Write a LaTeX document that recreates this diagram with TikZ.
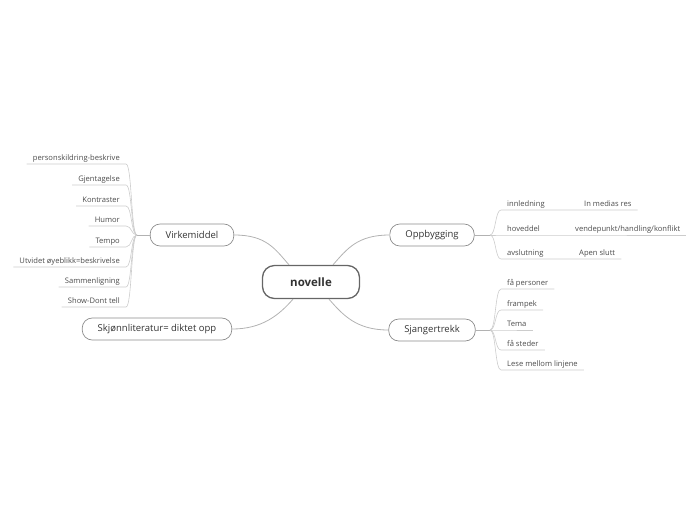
\documentclass[tikz,border=0pt]{standalone}
\usepackage{fontspec}
\setmainfont{Open Sans}
\usetikzlibrary{positioning,calc}

\begin{document}
\begin{tikzpicture}[x=1pt, y=-1pt,
  root/.style={draw=black!60, line width=1.3pt, rounded corners=12pt,
    minimum width=97pt, minimum height=33pt,
    font=\fontsize{11.5}{13}\selectfont\bfseries, text=black!80},
  topic/.style={draw=black!45, line width=0.7pt, rounded corners=10pt,
    minimum height=22pt, inner xsep=15.5pt,
    font=\fontsize{9.5}{11}\selectfont, text=black!80},
  leaf/.style={font=\fontsize{7.6}{8.5}\selectfont, text=black!70,
    inner xsep=6pt, inner ysep=3pt, text height=5pt, text depth=0pt},
  link/.style={draw=black!30, line width=0.8pt},
  uline/.style={draw=black!20, line width=0.6pt}]
  \useasboundingbox (0,0) rectangle (696,520);

  % main topics
  \node[root] (root) at (311,282) {novelle};
  \node[topic] (virk) at (192,235) {Virkemiddel};
  \node[topic] (opp) at (432,235) {Oppbygging};
  \node[topic] (sjanger) at (432,330) {Sjangertrekk};
  \node[topic] (skjonn) at (157,329) {Skjønnliteratur= diktet opp};

  \draw[link] (virk.east) .. controls +(32,0) and +(-14,-16) .. ([xshift=-22pt]root.north);
  \draw[link] (opp.west) .. controls +(-32,0) and +(14,-16) .. ([xshift=22pt]root.north);
  \draw[link] (sjanger.west) .. controls +(-32,0) and +(14,16) .. ([xshift=18pt]root.south);
  \draw[link] (skjonn.east) .. controls +(30,0) and +(-14,16) .. ([xshift=-18pt]root.south);

  % Virkemiddel
  \coordinate (vbr) at (137,235);
  \draw[link] (virk.west) -- (vbr);
  \node[leaf, anchor=south east] (v1) at (126,164) {personskildring-beskrive};
  \node[leaf, anchor=south east] (v2) at (126,185) {Gjentagelse};
  \node[leaf, anchor=south east] (v3) at (126,206) {Kontraster};
  \node[leaf, anchor=south east] (v4) at (126,226) {Humor};
  \node[leaf, anchor=south east] (v5) at (126,247) {Tempo};
  \node[leaf, anchor=south east] (v6) at (126,267) {Utvidet øyeblikk=beskrivelse};
  \node[leaf, anchor=south east] (v7) at (126,287) {Sammenligning};
  \node[leaf, anchor=south east] (v8) at (126,307) {Show-Dont tell};
  \draw[uline] (vbr) .. controls +(-6,0) and +(6,0) .. (v1.south east) -- (v1.south west);
  \draw[uline] (vbr) .. controls +(-6,0) and +(6,0) .. (v2.south east) -- (v2.south west);
  \draw[uline] (vbr) .. controls +(-6,0) and +(6,0) .. (v3.south east) -- (v3.south west);
  \draw[uline] (vbr) .. controls +(-6,0) and +(6,0) .. (v4.south east) -- (v4.south west);
  \draw[uline] (vbr) .. controls +(-6,0) and +(6,0) .. (v5.south east) -- (v5.south west);
  \draw[uline] (vbr) .. controls +(-6,0) and +(6,0) .. (v6.south east) -- (v6.south west);
  \draw[uline] (vbr) .. controls +(-6,0) and +(6,0) .. (v7.south east) -- (v7.south west);
  \draw[uline] (vbr) .. controls +(-6,0) and +(6,0) .. (v8.south east) -- (v8.south west);

  % Oppbygging
  \coordinate (obr) at (490,235);
  \draw[link] (opp.east) -- (obr);
  \node[leaf, anchor=south west] (o1) at (501,210) {innledning};
  \node[leaf, anchor=south west] (o2) at (501,235) {hoveddel};
  \node[leaf, anchor=south west] (o3) at (501,259) {avslutning};
  \node[leaf, anchor=south west] (g1) at (578,210) {In medias res};
  \node[leaf, anchor=south west] (g2) at (569,235) {vendepunkt/handling/konflikt};
  \node[leaf, anchor=south west] (g3) at (573,259) {Apen slutt};
  \draw[uline] (obr) .. controls +(6,0) and +(-6,0) .. (o1.south west) -- (o1.south east) -- (g1.south west) -- (g1.south east);
  \draw[uline] (obr) .. controls +(6,0) and +(-6,0) .. (o2.south west) -- (o2.south east) -- (g2.south west) -- (g2.south east);
  \draw[uline] (obr) .. controls +(6,0) and +(-6,0) .. (o3.south west) -- (o3.south east) -- (g3.south west) -- (g3.south east);

  % Sjangertrekk
  \coordinate (sbr) at (490,330);
  \draw[link] (sjanger.east) -- (sbr);
  \node[leaf, anchor=south west] (s1) at (501,289) {få personer};
  \node[leaf, anchor=south west] (s2) at (501,310) {frampek};
  \node[leaf, anchor=south west] (s3) at (501,330) {Tema};
  \node[leaf, anchor=south west] (s4) at (501,350) {få steder};
  \node[leaf, anchor=south west] (s5) at (501,370) {Lese mellom linjene};
  \draw[uline] (sbr) .. controls +(6,0) and +(-6,0) .. (s1.south west) -- (s1.south east);
  \draw[uline] (sbr) .. controls +(6,0) and +(-6,0) .. (s2.south west) -- (s2.south east);
  \draw[uline] (sbr) .. controls +(6,0) and +(-6,0) .. (s3.south west) -- (s3.south east);
  \draw[uline] (sbr) .. controls +(6,0) and +(-6,0) .. (s4.south west) -- (s4.south east);
  \draw[uline] (sbr) .. controls +(6,0) and +(-6,0) .. (s5.south west) -- (s5.south east);
\end{tikzpicture}
\end{document}
